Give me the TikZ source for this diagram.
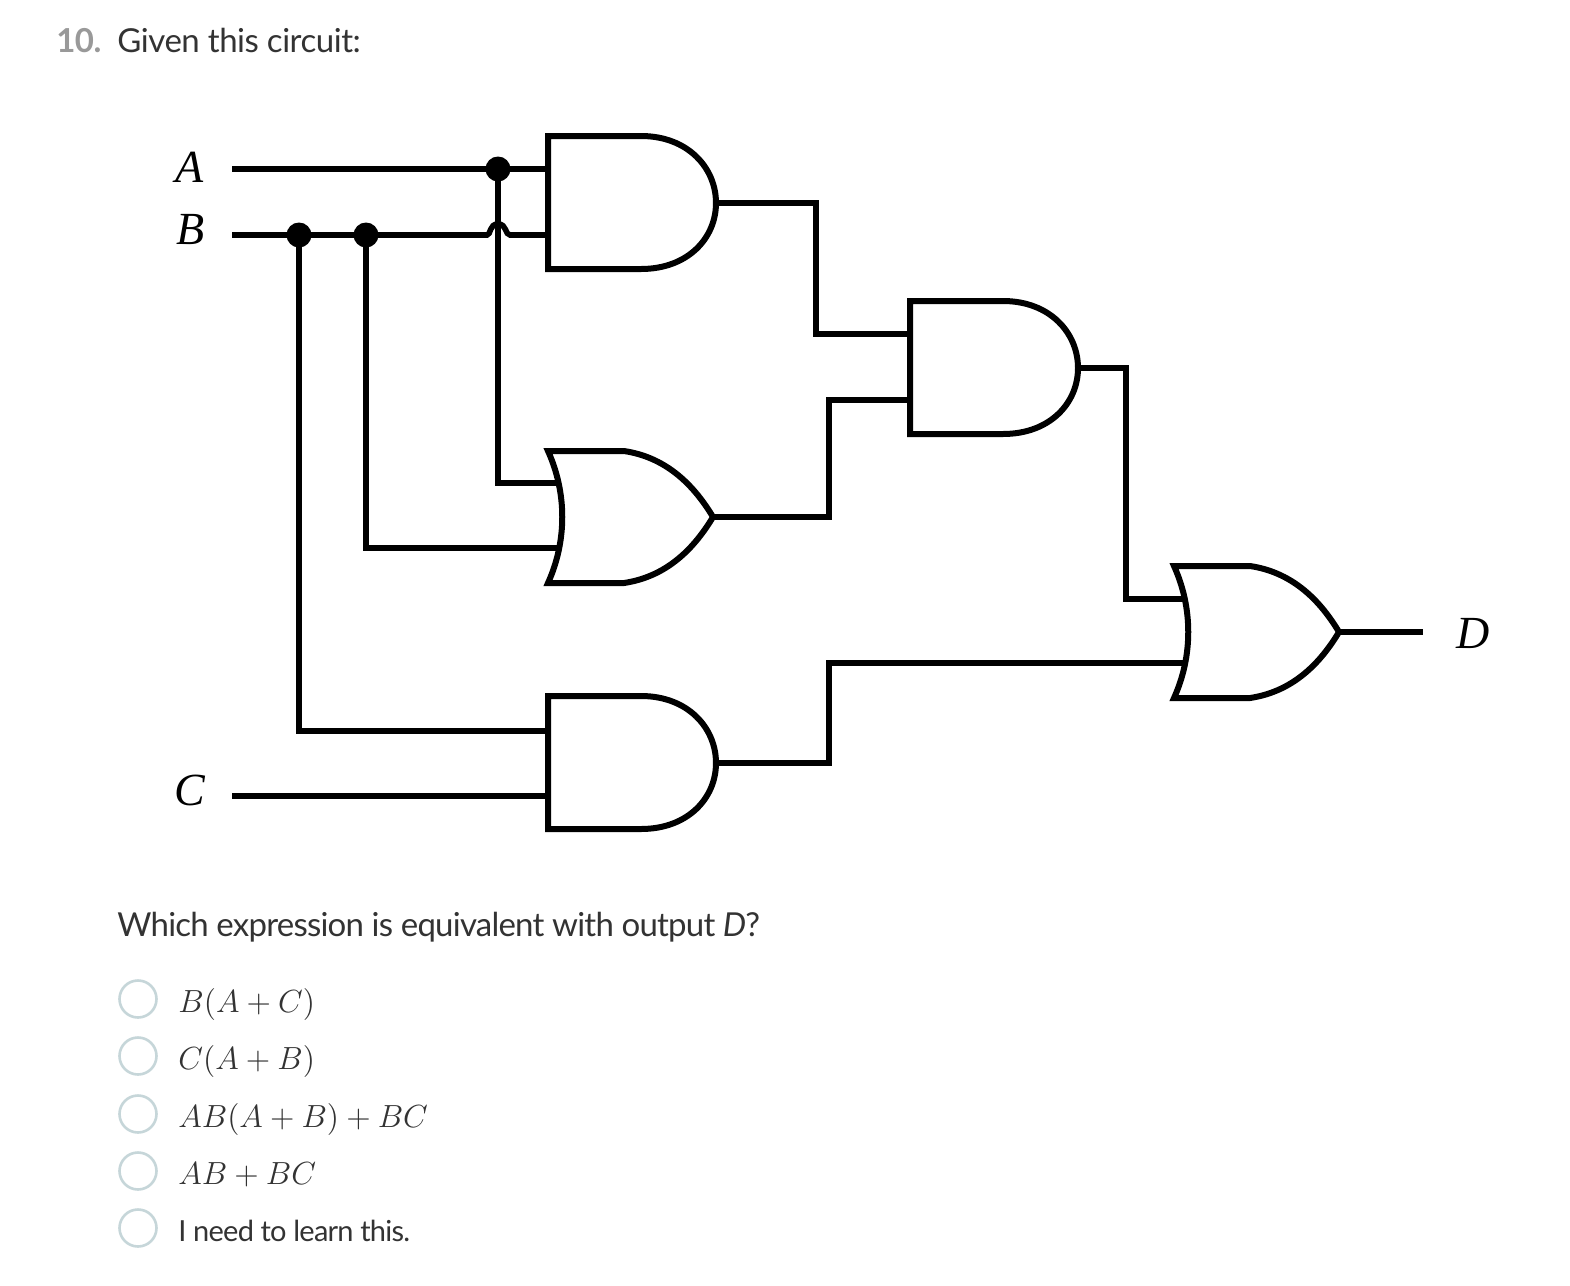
\RequirePackage{fix-cm}
\documentclass[tikz,border=0pt]{standalone}
\usepackage{fontspec}
\setmainfont{Lato}[LetterSpace=-1.8]
\newfontfamily\siglabelfont{Liberation Serif}
\definecolor{ink}{HTML}{333333}
\definecolor{numgray}{HTML}{999999}
\definecolor{ring}{HTML}{C6D6D9}
\newcommand{\andgate}[5]{% name, left x, top y, in1 y, in2 y
  \coordinate (#1-in1) at (#2,#4);
  \coordinate (#1-in2) at (#2,#5);
  \coordinate (#1-out) at (#2+168,#3+67);
  \draw[gate] (#2,#3) -- (#2+93,#3) .. controls (#2+140,#3) and (#2+168,#3+32) .. (#2+168,#3+67)
     .. controls (#2+168,#3+102) and (#2+140,#3+133) .. (#2+93,#3+133) -- (#2,#3+133) -- cycle;
}
\newcommand{\orgate}[5]{% name, left x, top y, in1 y, in2 y
  \coordinate (#1-in1) at (#2+9,#4);
  \coordinate (#1-in2) at (#2+9,#5);
  \coordinate (#1-out) at (#2+165,#3+66);
  \draw[gate] (#2,#3) -- (#2+76,#3) .. controls (#2+116,#3+6) and (#2+144,#3+31) .. (#2+165,#3+66)
     .. controls (#2+144,#3+101) and (#2+116,#3+126) .. (#2+76,#3+132) -- (#2,#3+132)
     .. controls (#2+19,#3+90) and (#2+19,#3+42) .. (#2,#3) -- cycle;
}
\begin{document}
\begin{tikzpicture}[x=0.5pt,y=-0.5pt,
  gate/.style={draw=black,line width=3pt,fill=white,line join=miter},
  wire/.style={draw=black,line width=2.8pt,line join=miter},
  junction/.style={circle,fill=black,inner sep=0pt,minimum size=12.5pt},
  siglabel/.style={inner sep=0pt,font=\siglabelfont\itshape\fontsize{23}{28}\selectfont},
  body/.style={anchor=base west,inner sep=0pt,text=ink,font=\fontsize{16.5}{20}\selectfont},
  choice/.style={anchor=base west,inner sep=0pt,text=ink,font=\fontsize{16}{20}\selectfont},
  radio/.style={circle,draw=ring,line width=1.3pt,fill=white,inner sep=0pt,minimum size=18.5pt}]
\useasboundingbox (-1,-1) rectangle (1569,1285);
\fill[white] (-1,-1) rectangle (1569,1285);

\node[body,text=numgray,font=\fontsize{16.5}{20}\selectfont\bfseries] (num) at (55,51) {10.};
\node[body,font=\fontsize{16.5}{20}\selectfont\addfontfeature{LetterSpace=-1.4}] (given) at (116,51) {Given this circuit:};
\node[body,font=\fontsize{16.5}{20}\selectfont\addfontfeature{LetterSpace=-2.35}] (which) at (116,935) {Which expression is equivalent with output \textit{D}?};

% input / output labels
\node[siglabel] (A) at (189,166) {A};
\node[siglabel] (B) at (190,229) {B};
\node[siglabel] (C) at (189,789) {C};
\node[siglabel] (D) at (1472,632) {D};

\coordinate (Aw) at (231,168);
\coordinate (Bw) at (231,234);
\coordinate (Cw) at (231,795);
\coordinate (Dw) at (1422,630);
\coordinate (j1) at (497,168);
\coordinate (j2) at (298,234);
\coordinate (j3) at (365,234);
\coordinate (hopL) at (486,234);
\coordinate (hopR) at (509,234);
\coordinate (w1) at (815,333);
\coordinate (w2) at (828,399);
\coordinate (w3) at (1125,598);
\coordinate (w4) at (828,662);

\andgate{gOne}{547}{135}{168}{234}
\andgate{gTwo}{909}{300}{333}{399}
\andgate{gThree}{547}{695}{730}{795}
\orgate{oOne}{547}{450}{482}{547}
\orgate{oTwo}{1173}{565}{598}{662}

\draw[wire] (Aw) -- (gOne-in1);
\draw[wire] (Bw) -- (hopL) .. controls (490,234) and (488,223) .. (497,223) .. controls (506,223) and (504,234) .. (hopR) -- (gOne-in2);
\draw[wire] (j1) |- (oOne-in1);
\draw[wire] (j3) |- (oOne-in2);
\draw[wire] (j2) |- (gThree-in1);
\draw[wire] (Cw) -- (gThree-in2);
\draw[wire] (gOne-out) -| (w1) -- (gTwo-in1);
\draw[wire] (oOne-out) -| (w2) -- (gTwo-in2);
\draw[wire] (gTwo-out) -| (w3) -- (oTwo-in1);
\draw[wire] (gThree-out) -| (w4) -- (oTwo-in2);
\draw[wire] (oTwo-out) -- (Dw |- oTwo-out);

\node[junction] at (j1) {};
\node[junction] at (j2) {};
\node[junction] at (j3) {};

% answer choices
\node[radio] (r1) at (137,998) {};
\node[radio] (r2) at (137,1055) {};
\node[radio] (r3) at (137,1113) {};
\node[radio] (r4) at (137,1170) {};
\node[radio] (r5) at (137,1227) {};
\node[choice] (t1) at (177,1011) {$B(A+C)$};
\node[choice] (t2) at (177,1068) {$C(A+B)$};
\node[choice] (t3) at (177,1126) {$AB(A+B)+BC$};
\node[choice] (t4) at (177,1183) {$AB+BC$};
\node[choice,font=\fontsize{14.5}{18}\selectfont\addfontfeature{LetterSpace=-2.6}] (t5) at (177,1240) {I need to learn this.};
\end{tikzpicture}
\end{document}
